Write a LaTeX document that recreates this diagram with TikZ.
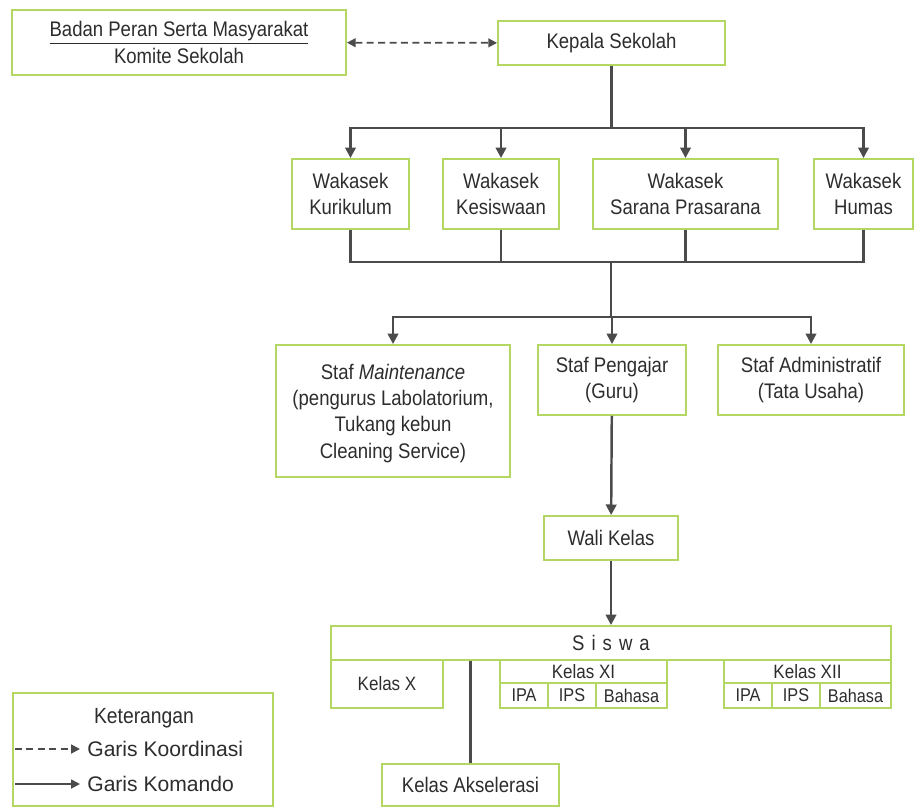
\documentclass[tikz,border=0pt]{standalone}
\usepackage{fontspec}
\setmainfont{Liberation Sans}[FakeStretch=0.88]
\newfontfamily\legendfont{Liberation Sans}
\usetikzlibrary{arrows.meta}
\definecolor{boxgreen}{RGB}{180,214,98}
\definecolor{linegray}{RGB}{75,75,75}
\definecolor{textgray}{RGB}{45,45,45}
\tikzstyle{box}=[draw=boxgreen,line width=1.1pt,fill=white,text=textgray,align=center,inner sep=0pt,font=\fontsize{12}{15}\selectfont]
\tikzstyle{cell}=[box,font=\fontsize{10.5}{12}\selectfont]
\tikzstyle{edge}=[draw=linegray,line width=1.4pt,-{Triangle[length=6pt,width=6pt]}]
\tikzstyle{plainedge}=[draw=linegray,line width=1.4pt]
\tikzstyle{coordedge}=[draw=linegray,line width=1pt,dash pattern=on 4pt off 2.5pt,{Triangle[length=5pt,width=5pt]}-{Triangle[length=5pt,width=5pt]}]
\tikzstyle{legendtext}=[text=textgray,inner sep=0pt,font=\legendfont\fontsize{12}{14}\selectfont]

\begin{document}
\begin{tikzpicture}[x=0.02cm,y=-0.02cm]
    \useasboundingbox (0,0) rectangle (915,808);

    % top
    \node[box,minimum width=6.68cm,minimum height=1.3cm] (badan) at (179,42.5)
        {\underline{Badan Peran Serta Masyarakat}\\Komite Sekolah};
    \node[box,minimum width=4.54cm,minimum height=0.88cm] (kepala) at (611.5,43) {Kepala Sekolah};
    \path[coordedge] (badan) -- (kepala);

    % wakasek
    \foreach \pos/\name/\w/\txt in {{(350.5,194)/kur/2.34/Kurikulum}, {(501,194)/kes/2.32/Kesiswaan},
                                    {(685.5,194)/sar/3.7/Sarana Prasarana}, {(863.5,194)/hum/1.97/Humas}}
        \node[box,minimum width=\w cm,minimum height=1.4cm] (\name) at \pos {Wakasek\\\txt};

    \foreach \dest in {kur,kes,sar,hum}
        \path[edge] (kepala.south) -- ++(0,62) -| (\dest.north);

    % staf
    \node[box,minimum width=4.68cm,minimum height=2.64cm,text depth=0pt] (mnt) at (393,411)
        {Staf \textit{Maintenance}\\(pengurus Labolatorium,\\Tukang kebun\\Cleaning Service)};
    \node[box,minimum width=2.96cm,minimum height=1.4cm] (guru) at (612,380) {Staf Pengajar\\(Guru)};
    \node[box,minimum width=3.72cm,minimum height=1.4cm] (adm) at (811,380) {Staf Administratif\\(Tata Usaha)};

    \coordinate (join) at (611,262);
    \foreach \source in {kur,kes,sar,hum}
        \path[plainedge] (\source.south) |- (join);
    \foreach \dest in {mnt,guru,adm}
        \path[edge] (join) -- ++(0,55) -| (\dest.north);

    % wali kelas dan siswa
    \node[box,minimum width=2.68cm,minimum height=0.88cm] (wali) at (611,538) {Wali Kelas};
    \node[box,minimum width=11.2cm,minimum height=0.68cm] (siswa) at (611,643) {S\,\,i\,\,s\,\,w\,\,a};
    \path[edge] (guru) -- (wali);
    \path[edge] (wali) -- (siswa);

    \node[box,minimum width=2.24cm,minimum height=0.96cm,font=\fontsize{11}{13}\selectfont] (kx) at (387,684) {Kelas X};
    \node[box,minimum width=3.34cm,minimum height=0.46cm,font=\fontsize{11}{13}\selectfont] (kxi) at (583.5,671.5) {Kelas XI};
    \node[box,minimum width=3.34cm,minimum height=0.46cm,font=\fontsize{11}{13}\selectfont] (kxii) at (807.5,671.5) {Kelas XII};
    \foreach \pos/\name/\w/\txt in {{(524,695.5)/xiipa/0.96/IPA}, {(572,695.5)/xiips/0.96/IPS}, {(631.5,695.5)/xibhs/1.42/Bahasa},
                                    {(748,695.5)/xiiipa/0.96/IPA}, {(796,695.5)/xiiips/0.96/IPS}, {(855.5,695.5)/xiibhs/1.42/Bahasa}}
        \node[cell,minimum width=\w cm,minimum height=0.5cm] (\name) at \pos {\txt};

    \node[box,minimum width=3.54cm,minimum height=0.84cm] (aksel) at (470.5,785) {Kelas Akselerasi};
    \path[plainedge] (aksel.north |- siswa.south) -- (aksel.north);

    % keterangan
    \node[box,minimum width=5.2cm,minimum height=2.26cm] (legend) at (143,749.5) {};
    \node[text=textgray,font=\fontsize{12.5}{14}\selectfont] (ket) at (144,718) {Keterangan};
    \coordinate (d1) at (15,749);
    \coordinate (d2) at (80,749);
    \coordinate (k1) at (15,784);
    \coordinate (k2) at (80,784);
    \path[draw=linegray,line width=1pt,dash pattern=on 4pt off 2.5pt,-{Triangle[length=5pt,width=5pt]}] (d1) -- (d2);
    \path[draw=linegray,line width=1pt,-{Triangle[length=5pt,width=5pt]}] (k1) -- (k2);
    \node[legendtext,anchor=west] (lkoor) at (87,749) {Garis Koordinasi};
    \node[legendtext,anchor=west] (lkom) at (87,784) {Garis Komando};

\end{tikzpicture}
\end{document}
